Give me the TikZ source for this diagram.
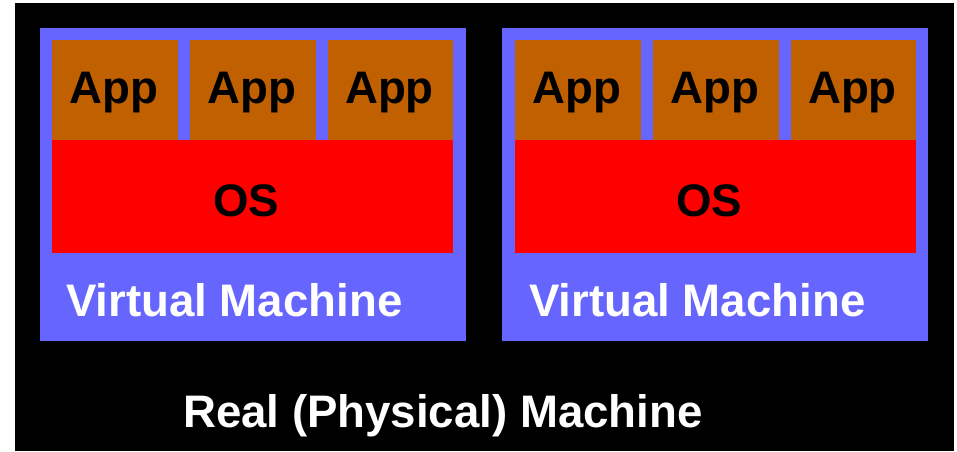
\documentclass[tikz,border=0pt]{standalone}
\usepackage{fontspec}
\setmainfont{Liberation Sans}
\definecolor{vmblue}{RGB}{102,102,255}
\definecolor{appbrown}{RGB}{192,96,0}
\definecolor{osred}{RGB}{255,0,0}
\begin{document}
\begin{tikzpicture}[x=1pt,y=-1pt,
  lbl/.style={font=\fontsize{45.6}{50}\bfseries\selectfont, inner sep=0pt},
  dark/.style={lbl, text=black},
  light/.style={lbl, text=white}]
\useasboundingbox (0,0) rectangle (957,451);
\fill[white] (0,0) rectangle (957,451);
\fill[black] (15,3) rectangle (954,451);
% virtual machines
\fill[vmblue] (40,28) rectangle (466,341);
\fill[vmblue] (502,28) rectangle (928,341);
% apps VM1
\fill[appbrown] (52,40) rectangle (178,140);
\fill[appbrown] (190,40) rectangle (316,140);
\fill[appbrown] (328,40) rectangle (453,140);
% apps VM2
\fill[appbrown] (515,40) rectangle (641,140);
\fill[appbrown] (653,40) rectangle (779,140);
\fill[appbrown] (791,40) rectangle (916,140);
% OS
\fill[osred] (52,140) rectangle (453,253);
\fill[osred] (515,140) rectangle (916,253);
% texts
\node[dark, anchor=base] (t1) at (114,103.5) {App};
\node[dark, anchor=base] (t2) at (252,103.5) {App};
\node[dark, anchor=base] (t3) at (389.5,103.5) {App};
\node[dark, anchor=base] (t4) at (577,103.5) {App};
\node[dark, anchor=base] (t5) at (715,103.5) {App};
\node[dark, anchor=base] (t6) at (852.5,103.5) {App};
\node[dark, anchor=base] (os1) at (246,216.5) {OS};
\node[dark, anchor=base] (os2) at (709,216.5) {OS};
\node[light, anchor=base west] (vm1) at (66,316.5) {Virtual Machine};
\node[light, anchor=base west] (vm2) at (529,316.5) {Virtual Machine};
\node[light, anchor=base west] (real) at (183,427) {Real (Physical) Machine};
\end{tikzpicture}
\end{document}
